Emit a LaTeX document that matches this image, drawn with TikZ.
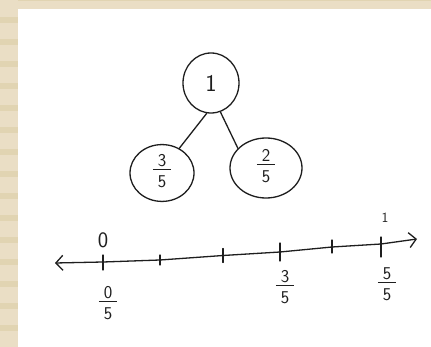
\documentclass[tikz,border=0pt]{standalone}
\usetikzlibrary{arrows.meta,shapes.geometric}
\definecolor{beige}{RGB}{234,222,197}
\definecolor{beigedark}{RGB}{225,212,178}
\definecolor{ink}{RGB}{30,30,30}
\newcommand{\myfr}[2]{{\fontsize{18}{20}\selectfont\sffamily\setlength\arrayrulewidth{1.2pt}%
  \begin{tabular}{@{\hspace{5pt}}c@{\hspace{5pt}}}#1\\[-4pt]\hline\rule{0pt}{17pt}#2\end{tabular}}}
\begin{document}
\begin{tikzpicture}[x=1pt,y=-1pt,
  bubble/.style={draw=ink,line width=1.3pt,ellipse,inner sep=0pt},
  link/.style={draw=ink,line width=1.3pt,line cap=round},
  numline/.style={draw=ink,line width=1.3pt,line cap=round,line join=round,
    {Straight Barb[length=7pt,width=15pt,line width=1.3pt]}-{Straight Barb[length=7pt,width=15pt,line width=1.3pt]}},
  tick/.style={draw=ink,line width=1.3pt,line cap=round},
  lab/.style={text=ink,inner sep=0pt},
]
% background
\fill[beige] (0,0) rectangle (431,347);
\foreach \y in {17,39,...,325} \fill[beigedark] (0,\y) rectangle (17.5,\y+6);
\fill[beigedark] (17.5,0) rectangle (431,1.5);
\fill[white] (17.5,9) rectangle (431,347);
\useasboundingbox (0,0) rectangle (431,347);

% tree
\node[bubble,minimum width=56pt,minimum height=60pt,text=ink] (top) at (211,83)
  {\fontsize{24}{26}\selectfont\sffamily 1};
\node[bubble,minimum width=64pt,minimum height=53pt,text=ink] (left) at (162,173) {\myfr{3}{5}};
\node[bubble,minimum width=72pt,minimum height=60pt,text=ink] (right) at (266,168) {\myfr{2}{5}};
\draw[link] (top.262) -- (left.55);
\draw[link] (top.288) -- (right.145);

% number line points
\coordinate (L) at (55,263);
\coordinate (t0) at (103,262);
\coordinate (t1) at (160,260);
\coordinate (t2) at (223,255.5);
\coordinate (t3) at (280,252);
\coordinate (t4) at (332,247);
\coordinate (t5) at (381,244);
\coordinate (R) at (417,239);
\draw[numline] (L) -- (t0) -- (t1) -- (t2) -- (t3) -- (t4) -- (t5) -- (R);
\draw[tick] (t0) ++(0,-7) -- ++(0,15);
\draw[tick] (t1) ++(0,-5) -- ++(0,10);
\draw[tick] (t2) ++(0,-7) -- ++(0,14);
\draw[tick] (t3) ++(0,-9) -- ++(0,18);
\draw[tick] (t4) ++(0,-7) -- ++(0,13);
\draw[tick] (t5) ++(0,-7) -- ++(0,20);

% labels
\node[lab] (zero) at (103,240) {\fontsize{22}{24}\selectfont\sffamily 0};
\node[lab] (one) at (385,218) {\fontsize{14}{16}\selectfont\sffamily 1};
\node[lab] (f0) at (108,305) {\myfr{0}{5}};
\node[lab] (f3) at (285,289) {\myfr{3}{5}};
\node[lab] (f5) at (387,286) {\myfr{5}{5}};
\end{tikzpicture}
\end{document}
